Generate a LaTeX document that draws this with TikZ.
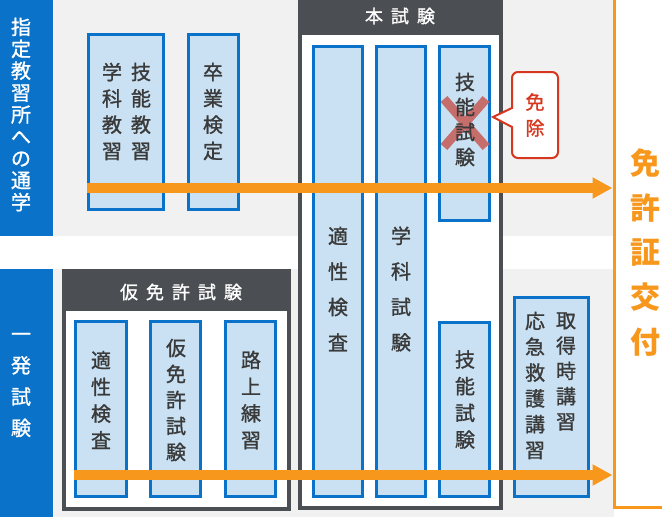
\documentclass[tikz,border=0pt]{standalone}
\usepackage{fontspec}
\setmainfont{Noto Sans CJK JP}
\newfontfamily\jpmed[FakeBold=1.2]{Noto Sans CJK JP}
\usetikzlibrary{arrows.meta}

\definecolor{labelblue}{HTML}{0A72C8}
\definecolor{boxfill}{HTML}{C9E1F2}
\definecolor{framegray}{HTML}{4B4E52}
\definecolor{bandgray}{HTML}{F1F1F1}
\definecolor{koufuorange}{HTML}{F7981D}
\definecolor{menjored}{HTML}{D7371F}
\definecolor{textgray}{HTML}{3A3A3A}
\definecolor{crossred}{HTML}{C66E6C}

\begin{document}
\begin{tikzpicture}[x=1pt,y=-1pt,
  sidelabel/.style={text=white, align=center, inner sep=0pt, font=\jpmed\fontsize{20}{21.9}\selectfont},
  subjbox/.style={draw=labelblue, fill=boxfill, line width=3pt, inner sep=0pt},
  frame/.style={draw=framegray, fill=white, line width=4pt, inner sep=0pt},
  header/.style={text=white, inner sep=0pt, font=\jpmed\fontsize{18}{20}\selectfont},
  vtext/.style={text=textgray, align=center, inner sep=0pt, font=\jpmed\fontsize{20}{26.3}\selectfont},
  flow/.style={draw=koufuorange, line width=10pt, -{Triangle[length=20pt,width=20pt]}}]
\useasboundingbox (0,0) rectangle (662,517);

% bands
\fill[bandgray] (54,0) rectangle (614,236);
\fill[bandgray] (54,269) rectangle (614,517);
\fill[labelblue] (0,0) rectangle (53,236);
\fill[labelblue] (0,269) rectangle (53,517);
\node[sidelabel] (tsugaku) at (21,114.5) {指\\定\\教\\習\\所\\へ\\の\\通\\学};
\node[sidelabel, font=\jpmed\fontsize{20}{31.3}\selectfont] (ippatsu) at (21,385) {一\\発\\試\\験};

% license issue
\node[draw=koufuorange, fill=white, line width=3pt, inner sep=0pt,
  minimum width=62pt, minimum height=511pt] (koufu) at (645,251.5) {};
\node[text=koufuorange, align=center, inner sep=0pt,
  font=\bfseries\fontsize{30}{44.7}\selectfont] (koufutext) at (645,252.5) {免\\許\\証\\交\\付};

% frames
\node[frame, minimum width=201pt, minimum height=518pt] (honshiken) at (400.5,249) {};
\fill[framegray] (298,-10) rectangle (503,35);
\node[header] (honhead) at (400,16) {本\hspace{8pt}試\hspace{8pt}験};
\node[frame, minimum width=225pt, minimum height=238pt] (karimen) at (176.5,390) {};
\fill[framegray] (62,269) rectangle (291,311);
\node[header] (karihead) at (181,292) {仮\hspace{8pt}免\hspace{8pt}許\hspace{8pt}試\hspace{8pt}験};

% subject boxes
\node[subjbox, minimum width=75pt, minimum height=175pt] (kyoshu) at (126,122) {};
\node[subjbox, minimum width=50pt, minimum height=175pt] (sotsugyo) at (213.5,122) {};
\node[subjbox, minimum width=49pt, minimum height=450pt] (tekisei) at (338,271.5) {};
\node[subjbox, minimum width=49pt, minimum height=450pt] (gakka) at (401,271.5) {};
\node[subjbox, minimum width=50pt, minimum height=174pt] (ginoA) at (464.5,133.5) {};
\node[subjbox, minimum width=50pt, minimum height=174pt] (ginoB) at (464.5,409.5) {};
\node[subjbox, minimum width=51pt, minimum height=175pt] (kariA) at (101,409) {};
\node[subjbox, minimum width=50pt, minimum height=175pt] (kariB) at (175.5,409) {};
\node[subjbox, minimum width=50pt, minimum height=175pt] (kariC) at (250.5,409) {};
\node[subjbox, minimum width=74pt, minimum height=199pt] (koshu) at (551.5,397) {};

% exempted
\draw[crossred, line width=9pt] (444,99) -- (486,147);
\draw[crossred, line width=9pt] (486,99) -- (444,147);

% box texts
\node[vtext] (ginokyoshu) at (141,111.5) {技\\能\\教\\習};
\node[vtext] (gakkakyoshu) at (112,111.5) {学\\科\\教\\習};
\node[vtext] (sotsutext) at (213,111.5) {卒\\業\\検\\定};
\node[vtext, font=\jpmed\fontsize{20}{35.5}\selectfont] (tekitext) at (338,289) {適\\性\\検\\査};
\node[vtext, font=\jpmed\fontsize{20}{35.5}\selectfont] (gakkatext) at (401,289) {学\\科\\試\\験};
\node[vtext, font=\jpmed\fontsize{20}{25}\selectfont] (ginoAtext) at (465,119.5) {技\\能\\試\\験};
\node[vtext, font=\jpmed\fontsize{20}{26.7}\selectfont] (ginoBtext) at (465,399.5) {技\\能\\試\\験};
\node[vtext, font=\jpmed\fontsize{20}{26.7}\selectfont] (kariAtext) at (101,400) {適\\性\\検\\査};
\node[vtext, font=\jpmed\fontsize{20}{26}\selectfont] (kariBtext) at (176,400) {仮\\免\\許\\試\\験};
\node[vtext, font=\jpmed\fontsize{20}{26.7}\selectfont] (kariCtext) at (251,400) {路\\上\\練\\習};
\node[vtext, font=\jpmed\fontsize{20}{25.3}\selectfont] (shutoku) at (566,371.5) {取\\得\\時\\講\\習};
\node[vtext, font=\jpmed\fontsize{20}{25.8}\selectfont] (kyukyu) at (535,385.5) {応\\急\\救\\護\\講\\習};

% bubble
\draw[draw=menjored, fill=white, line width=2pt] (512,108) -- (493,117) -- (512,127)
  [rounded corners=6pt] -- (512,158) -- (558,158) -- (558,72) -- (512,72) [sharp corners] -- cycle;
\node[text=menjored, align=center, inner sep=0pt, font=\jpmed\fontsize{19}{26}\selectfont] (menjo) at (535,115) {免\\除};

% arrows
\coordinate (kyoshustart) at (87,188);
\coordinate (ippatsustart) at (74,475);
\draw[flow] (kyoshustart) -- (kyoshustart -| koufu.west);
\draw[flow] (ippatsustart) -- (ippatsustart -| koufu.west);
\end{tikzpicture}
\end{document}
